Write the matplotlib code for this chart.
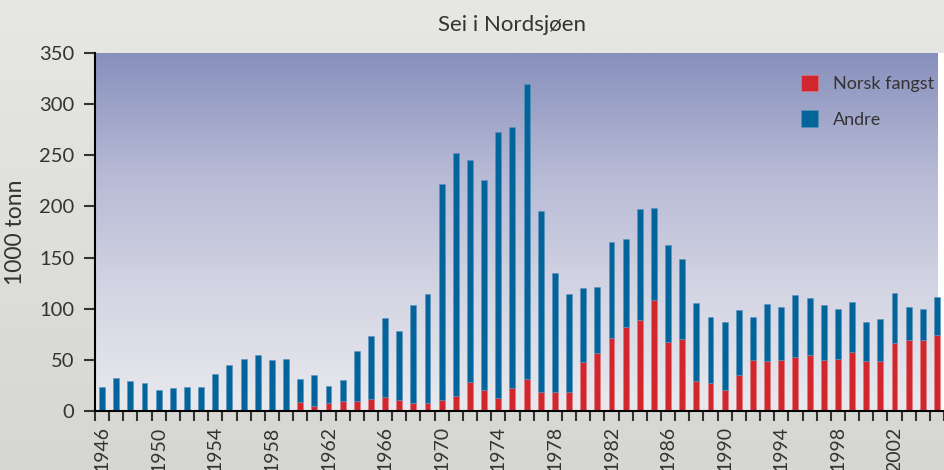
import matplotlib.pyplot as plt
import numpy as np
from matplotlib.colors import LinearSegmentedColormap

plt.rcParams['font.family'] = ['Lato', 'DejaVu Sans']

# data (1000 tonn)
years = list(range(1946, 2006))
norsk = [0, 0, 0, 0, 0, 0, 0, 0, 0, 0, 0, 0, 0, 0,
         9, 5, 8, 9.5, 9.5, 12, 13.5, 10.5, 8, 7.5,
         11, 15, 28, 21, 12.5, 22, 31, 19, 19, 18.5,
         48, 57, 71, 82, 89, 109, 67, 70, 29, 27,
         21, 35, 50, 49, 50, 53, 55, 49.5, 51, 57.5,
         49, 49, 66, 69, 69, 74]
totalt = [23, 32, 29, 27, 21, 22, 23, 23, 36, 45, 51, 55, 50, 51,
          31, 35, 24, 30, 58.5, 73, 91, 78, 103.5, 114.5,
          221.5, 252, 245.5, 225.5, 273, 277.5, 319.5, 195.5, 134.5, 114,
          120, 121.5, 165.5, 168.5, 197, 198.5, 162, 149, 106, 91.5,
          87.5, 98.5, 92, 105, 102, 113.5, 110, 103.5, 100, 107,
          87.5, 89.5, 115.5, 101.5, 100, 111]
andre = [t - n for t, n in zip(totalt, norsk)]

red = '#d2262d'
blue = '#02649a'

fig = plt.figure(figsize=(9.44, 4.7), dpi=100)
fig.patch.set_facecolor('#e4e5e1')

# light grey background with a soft gradient
bg = fig.add_axes([0, 0, 1, 1], zorder=-10)
bg.imshow(np.linspace(0, 1, 100).reshape(-1, 1), aspect='auto', extent=[0, 1, 0, 1],
          cmap=LinearSegmentedColormap.from_list('g', ['#e7e8e4', '#d6d7d3']))
bg.axis('off')

ax = fig.add_axes([95 / 944, 59 / 470, 1 - 95 / 944, 358 / 470])

# gradient plot area
grad = LinearSegmentedColormap.from_list('p', ['#8890bd', '#b6bad5', '#d4d5e3', '#e9e9ee'])
ax.imshow(np.linspace(0, 1, 256).reshape(-1, 1), aspect='auto', cmap=grad,
          extent=[1945.5, 2005.06, 0, 350], zorder=0)

ax.bar(years, norsk, width=0.42, color=red, edgecolor='#e07a80', linewidth=0.4,
       label='Norsk fangst', zorder=2)
ax.bar(years, andre, width=0.42, bottom=norsk, color=blue, edgecolor='#5d93bb',
       linewidth=0.4, label='Andre', zorder=2)

ax.set_xlim(1945.5, 2005.06)
ax.set_ylim(0, 350)

ax.set_yticks(range(0, 351, 50))
ax.set_xticks(range(1946, 2006, 4))
ax.set_xticks(np.arange(1945.5, 2005.6, 1), minor=True)
ax.tick_params(axis='x', which='major', length=0, pad=11, labelrotation=90,
               labelsize=14, colors='#333333')
ax.tick_params(axis='x', which='minor', length=7, width=1.5, color='#333333')
ax.tick_params(axis='y', length=8, width=1.5, pad=7, labelsize=14.5,
               color='#333333', labelcolor='#333333')

for s in ['top', 'right']:
    ax.spines[s].set_visible(False)
ax.spines['left'].set_linewidth(1.5)
ax.spines['bottom'].set_linewidth(1.5)
ax.spines['left'].set_zorder(3)
ax.spines['bottom'].set_zorder(3)

fig.text(512 / 944, 1 - 25 / 470, 'Sei i Nordsjøen', ha='center', va='center',
         fontsize=16, color='#333333')
fig.text(16 / 944, 1 - 232 / 470, '1000 tonn', ha='center', va='center',
         rotation=90, fontsize=16.5, color='#333333')

ax.legend(loc='upper right', bbox_to_anchor=(1.007, 0.985), frameon=False,
          fontsize=13, handlelength=0.95, handleheight=1.05, labelspacing=1.0,
          handletextpad=0.8, labelcolor='#333333')

fig.savefig('out.png', dpi=100)
